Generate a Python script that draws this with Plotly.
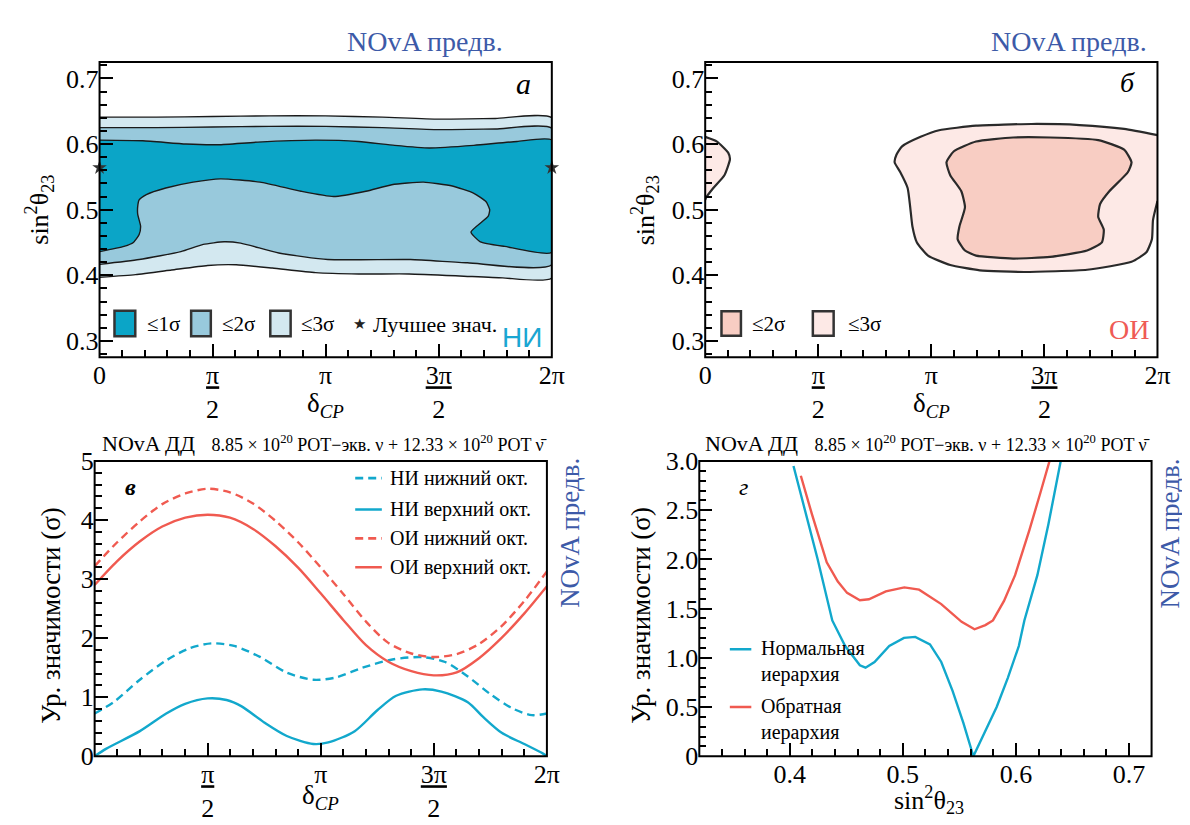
import numpy as np
import plotly.graph_objects as go

PI = np.pi
SERIF = "Liberation Serif"
SANS = "Liberation Sans"

# ---------------- Panel a (NH) : sin^2(theta23) vs delta_CP contour bands ----------------
a3_top_x = [0, 0.79, 1.57, 2.36, 3.14, 3.93, 4.71, 5.50, 2 * PI]
a3_top_y = [0.641, 0.641, 0.642, 0.643, 0.643, 0.641, 0.638, 0.639, 0.640]
a3_bot_x = [0, 0.5, 1.0, 1.5, 1.9, 2.4, 3.0, 3.6, 4.3, 5.0, 5.6, 2 * PI]
a3_bot_y = [0.397, 0.401, 0.408, 0.415, 0.416, 0.411, 0.404, 0.402, 0.402, 0.399, 0.396, 0.396]
a2_top_x = [0, 0.79, 1.57, 2.36, 3.14, 3.93, 4.71, 5.50, 2 * PI]
a2_top_y = [0.625, 0.625, 0.626, 0.627, 0.627, 0.625, 0.622, 0.623, 0.624]
a2_bot_x = [0, 0.55, 1.13, 1.44, 1.73, 1.96, 2.49, 3.17, 4.32, 5.11, 2 * PI]
a2_bot_y = [0.4166, 0.424, 0.436, 0.447, 0.451, 0.449, 0.434, 0.424, 0.424, 0.419, 0.416]
a1_top_x = [0, 0.6, 1.2, 1.65, 2.2, 3.0, 3.6, 4.1, 4.58, 5.2, 5.8, 2 * PI]
a1_top_y = [0.606, 0.605, 0.600, 0.599, 0.603, 0.606, 0.604, 0.598, 0.594, 0.598, 0.604, 0.606]
a1_bot_x = [0, 0.34, 0.47, 0.55, 0.57, 0.53, 0.53, 0.55, 0.65, 0.92, 1.3, 1.68, 2.23, 2.8, 3.25,
            3.7, 4.06, 4.50, 4.9, 5.2, 5.37, 5.42, 5.40, 5.16, 5.29, 5.63, 2 * PI]
a1_bot_y = [0.436, 0.444, 0.450, 0.462, 0.475, 0.493, 0.505, 0.515, 0.523, 0.533, 0.542, 0.547, 0.542,
            0.528, 0.520, 0.528, 0.538, 0.542, 0.536, 0.525, 0.512, 0.500, 0.490, 0.466, 0.451, 0.444, 0.435]
best_x = [0, 2 * PI]
best_y = [0.564, 0.564]

# ---------------- Panel b (IH) ----------------
b3_main_x = [2 * PI, 5.82, 5.2, 4.535, 3.763, 3.249, 2.992, 2.735, 2.658, 2.632, 2.709, 2.812, 2.848,
             2.879, 2.941, 3.095, 3.404, 3.815, 4.432, 5.306, 5.923, 6.129, 6.206, 6.221, 2 * PI]
b3_main_y = [0.6136, 0.623, 0.629, 0.6306, 0.628, 0.621, 0.611, 0.5965, 0.584, 0.572, 0.5574, 0.533,
             0.504, 0.4744, 0.450, 0.430, 0.4157, 0.4075, 0.405, 0.4084, 0.4206, 0.435, 0.455, 0.484, 0.513]
b3_left_x = [0, 0.164, 0.319, 0.344, 0.267, 0.113, 0.01, 0]
b3_left_y = [0.611, 0.6038, 0.587, 0.577, 0.5525, 0.533, 0.518, 0.515]
b2_x = [3.352, 3.455, 3.763, 4.277, 4.791, 5.460, 5.820, 5.923, 5.871, 5.614, 5.486, 5.460, 5.537,
        5.511, 5.306, 4.791, 4.277, 3.763, 3.609, 3.507, 3.532, 3.609, 3.558, 3.404, 3.352]
b2_y = [0.572, 0.589, 0.6038, 0.610, 0.610, 0.606, 0.5916, 0.572, 0.557, 0.528, 0.5086, 0.489, 0.4695,
        0.450, 0.4377, 0.428, 0.4255, 0.430, 0.4377, 0.455, 0.4744, 0.5037, 0.528, 0.5525, 0.572]

# ---------------- Panel c : significance vs delta_CP ----------------
nh_up_x = [0, 0.157, 0.628, 0.995, 1.257, 1.571, 1.833, 2.042, 2.356, 2.670, 3.037, 3.246, 3.613,
           3.927, 4.189, 4.555, 4.817, 5.184, 5.393, 5.655, 5.969, 6.23, 2 * PI]
nh_up_y = [0, 0.125, 0.425, 0.724, 0.888, 0.980, 0.953, 0.845, 0.572, 0.343, 0.207, 0.234, 0.425,
           0.779, 1.024, 1.133, 1.095, 0.915, 0.670, 0.397, 0.207, 0.044, 0]
nh_lo_x = [0, 0.262, 0.628, 0.995, 1.309, 1.623, 1.937, 2.304, 2.670, 3.037, 3.351, 3.718, 4.136,
           4.555, 4.869, 5.184, 5.498, 5.812, 6.074, 2 * PI]
nh_lo_y = [0.724, 0.915, 1.296, 1.623, 1.825, 1.912, 1.868, 1.678, 1.416, 1.296, 1.334, 1.498, 1.639,
           1.678, 1.596, 1.351, 1.051, 0.806, 0.697, 0.724]
ih_x = [0, 0.31, 0.63, 0.94, 1.26, 1.57, 1.88, 2.20, 2.51, 2.83, 3.14, 3.46, 3.77, 4.08, 4.40, 4.71,
        5.03, 5.34, 5.65, 5.97, 2 * PI]
ih_up_y = [2.90, 3.30, 3.64, 3.89, 4.04, 4.09, 4.04, 3.85, 3.56, 3.19, 2.76, 2.30, 1.88, 1.60, 1.44,
           1.37, 1.42, 1.66, 2.00, 2.42, 2.88]
ih_lo_y = [3.22, 3.62, 3.98, 4.27, 4.45, 4.53, 4.47, 4.28, 3.99, 3.62, 3.20, 2.74, 2.28, 1.92, 1.74,
           1.68, 1.73, 1.90, 2.20, 2.63, 3.13]

# ---------------- Panel d : significance vs sin^2(theta23) ----------------
nh_d_x = [0.4033, 0.413, 0.4245, 0.4376, 0.449, 0.462, 0.467, 0.475, 0.488, 0.501, 0.511, 0.524,
          0.534, 0.544, 0.5536, 0.5624, 0.5732, 0.583, 0.5928, 0.6026, 0.6075, 0.619, 0.6288, 0.637, 0.6405]
nh_d_y = [2.95, 2.53, 2.01, 1.38, 1.12, 0.924, 0.90, 0.958, 1.12, 1.203, 1.213, 1.137, 0.958, 0.664,
          0.336, 0.0, 0.27, 0.50, 0.794, 1.12, 1.38, 1.84, 2.36, 2.85, 3.05]
ih_d_x = [0.4098, 0.4196, 0.4327, 0.4425, 0.4507, 0.462, 0.470, 0.485, 0.5013, 0.5144, 0.534, 0.552,
          0.5634, 0.573, 0.5797, 0.5895, 0.5993, 0.612, 0.622, 0.631]
ih_d_y = [2.85, 2.46, 1.97, 1.775, 1.66, 1.585, 1.595, 1.676, 1.716, 1.693, 1.546, 1.366, 1.29, 1.333,
          1.38, 1.578, 1.84, 2.30, 2.69, 3.05]

# tick labels
dcp_vals = [0, PI / 2, PI, 3 * PI / 2, 2 * PI]
dcp_text_top = ["0", "<u>π</u><br>2", "π", "<u>3π</u><br>2", "2π"]
dcp_text_bot = ["", "<u>π</u><br>2", "π", "<u>3π</u><br>2", "2π"]
s23_vals = [0.3, 0.4, 0.5, 0.6, 0.7]
s23_text = ["0.3", "0.4", "0.5", "0.6", "0.7"]
sig_c_vals = [0, 1, 2, 3, 4, 5]
sig_d_vals = [0, 0.5, 1.0, 1.5, 2.0, 2.5, 3.0]
sig_d_text = ["0", "0.5", "1.0", "1.5", "2.0", "2.5", "3.0"]

# colours
C1, C2, C3 = "#0ba5c7", "#98c9dc", "#d3e8f0"
R2, R3 = "#f8cdc3", "#fde9e6"
CYAN, RED = "#12a8cc", "#f05a50"
BLUE = "#3d5aa8"

W, H = 1190, 825


def px(x):
    return x / W


def py(y):
    return 1 - y / H


fig = go.Figure()


def band(xt, yt, xb, yb, color, ax):
    xs = list(xt) + list(xb)[::-1]
    ys = list(yt) + list(yb)[::-1]
    fig.add_trace(go.Scatter(x=xs, y=ys, fill="toself", fillcolor=color, mode="lines",
                             line=dict(color="#1a1a1a", width=1.4, shape="spline", smoothing=0.5),
                             hoverinfo="skip", showlegend=False, xaxis="x" + ax, yaxis="y" + ax))


band(a3_top_x, a3_top_y, a3_bot_x, a3_bot_y, C3, "")
band(a2_top_x, a2_top_y, a2_bot_x, a2_bot_y, C2, "")
band(a1_top_x, a1_top_y, a1_bot_x, a1_bot_y, C1, "")
fig.add_trace(go.Scatter(x=best_x, y=best_y, mode="markers", cliponaxis=False,
                         marker=dict(symbol="star", size=11, color="#333333"),
                         showlegend=False, hoverinfo="skip", xaxis="x", yaxis="y"))

for xs, ys, col in [(b3_main_x, b3_main_y, R3), (b3_left_x, b3_left_y, R3), (b2_x, b2_y, R2)]:
    fig.add_trace(go.Scatter(x=xs, y=ys, fill="toself", fillcolor=col, mode="lines",
                             line=dict(color="#2a2a2a", width=2.2, shape="spline", smoothing=0.5),
                             hoverinfo="skip", showlegend=False, xaxis="x2", yaxis="y2"))

DASH = "8px,5px"
for xs, ys, col, dash in [(nh_lo_x, nh_lo_y, CYAN, DASH), (nh_up_x, nh_up_y, CYAN, "solid"),
                          (ih_x, ih_lo_y, RED, DASH), (ih_x, ih_up_y, RED, "solid")]:
    fig.add_trace(go.Scatter(x=xs, y=ys, mode="lines",
                             line=dict(color=col, width=2.4, dash=dash, shape="spline", smoothing=0.8),
                             hoverinfo="skip", showlegend=False, xaxis="x3", yaxis="y3"))

for xs, ys, col in [(nh_d_x, nh_d_y, CYAN), (ih_d_x, ih_d_y, RED)]:
    fig.add_trace(go.Scatter(x=xs, y=ys, mode="lines", line=dict(color=col, width=2.4),
                             hoverinfo="skip", showlegend=False, xaxis="x4", yaxis="y4"))


def axis(domain, rng, vals, text, minor_vals, anchor, size=26):
    return dict(domain=domain, range=rng, tickmode="array", tickvals=vals, ticktext=text,
                showgrid=False, zeroline=False, showline=False, ticks="inside", ticklen=13,
                tickwidth=2, tickcolor="black", anchor=anchor,
                tickfont=dict(family=SERIF, size=size, color="black"),
                minor=dict(tickmode="array", tickvals=minor_vals, ticks="inside", ticklen=7,
                           tickwidth=2, tickcolor="black"))


dcp_minor = [i * PI / 10 for i in range(21)]
s23_minor = [round(0.28 + 0.02 * i, 2) for i in range(23)]
c_minor = [round(0.2 * i, 1) for i in range(26)]
d_minor_y = [round(0.1 * i, 1) for i in range(31)]
d_minor_x = [round(0.32 + 0.02 * i, 2) for i in range(21)]

dom_ax = [px(86), px(546)]
dom_bx = [px(702), px(1162)]
dom_cx = [px(81), px(541)]
dom_dx = [px(696), px(1156)]
dom_top = [py(347.5), py(41.5)]
dom_bot = [py(761), py(455)]

fig.update_layout(
    width=W, height=H, margin=dict(l=0, r=0, t=0, b=0),
    paper_bgcolor="white", plot_bgcolor="white", showlegend=False,
    font=dict(family=SERIF, color="black"),
    xaxis=axis(dom_ax, [0, 2 * PI], dcp_vals, dcp_text_top, dcp_minor, "y"),
    yaxis=axis(dom_top, [0.275, 0.725], s23_vals, s23_text, s23_minor, "x"),
    xaxis2=axis(dom_bx, [0, 2 * PI], dcp_vals, dcp_text_top, dcp_minor, "y2"),
    yaxis2=axis(dom_top, [0.275, 0.725], s23_vals, s23_text, s23_minor, "x2"),
    xaxis3=axis(dom_cx, [0, 2 * PI], dcp_vals, dcp_text_bot, dcp_minor, "y3"),
    yaxis3=axis(dom_bot, [0, 5], sig_c_vals, [str(v) for v in sig_c_vals], c_minor, "x3"),
    xaxis4=axis(dom_dx, [0.32, 0.72], s23_vals[1:], s23_text[1:], d_minor_x, "y4"),
    yaxis4=axis(dom_bot, [0, 3], sig_d_vals, sig_d_text, d_minor_y, "x4"),
)

shapes = []
for xa, ya in [("x", "y"), ("x2", "y2"), ("x3", "y3"), ("x4", "y4")]:
    shapes.append(dict(type="rect", xref=xa + " domain", yref=ya + " domain", x0=0, x1=1, y0=0, y1=1,
                       line=dict(color="black", width=2), layer="above"))

for x0, x1, col in [(0.033, 0.079, C1), (0.2025, 0.246, C2), (0.3775, 0.4225, C3)]:
    shapes.append(dict(type="rect", xref="x domain", yref="y", x0=x0, x1=x1, y0=0.307, y1=0.346,
                       fillcolor=col, line=dict(color="#333333", width=2.5)))
for x0, x1, col in [(0.036, 0.079, R2), (0.238, 0.284, R3)]:
    shapes.append(dict(type="rect", xref="x2 domain", yref="y2", x0=x0, x1=x1, y0=0.308, y1=0.345,
                       fillcolor=col, line=dict(color="#333333", width=2.5)))
for yv, col, dash in [(4.71, CYAN, DASH), (4.18, CYAN, "solid"), (3.69, RED, DASH), (3.20, RED, "solid")]:
    shapes.append(dict(type="line", xref="x3", yref="y3", x0=3.62, x1=3.99, y0=yv, y1=yv,
                       line=dict(color=col, width=2.6, dash=dash)))
for yv, col in [(1.088, CYAN), (0.50, RED)]:
    shapes.append(dict(type="line", xref="x4", yref="y4", x0=0.347, x1=0.366, y0=yv, y1=yv,
                       line=dict(color=col, width=2.6)))
fig.update_layout(shapes=shapes)

ann = []


def A(text, x, y, xref="paper", yref="paper", size=20, color="black", family=SERIF,
      xanchor="center", yanchor="middle", angle=0, align="center", yshift=0):
    ann.append(dict(text=text, x=x, y=y, xref=xref, yref=yref, showarrow=False, xanchor=xanchor,
                    yanchor=yanchor, textangle=angle, align=align, yshift=yshift,
                    font=dict(family=family, size=size, color=color)))


A("NOvA предв.", px(498), py(20), size=28, color=BLUE, xanchor="right")
A("NOvA предв.", px(1153), py(20), size=28, color=BLUE, xanchor="right")
A("<i>а</i>", 0.9375, 0.6916, xref="x domain", yref="y", size=30)
A("<i>б</i>", 0.934, 0.694, xref="x2 domain", yref="y2", size=28)
for xt in [px(316), px(932)]:
    A("δ<sub><i>CP</i></sub>", xt, py(397), size=27)
A("sin<sup>2</sup>θ<sub>23</sub>", px(25), py(195), size=26, angle=-90)
A("sin<sup>2</sup>θ<sub>23</sub>", px(641), py(195), size=26, angle=-90)
for xf, t, s in [(0.10, "≤1σ", 21), (0.267, "≤2σ", 21), (0.442, "≤3σ", 21), (0.60, "Лучшее знач.", 22)]:
    A(t, xf, 0.325, xref="x domain", yref="y", size=s, xanchor="left")
A("★", 0.575, 0.326, xref="x domain", yref="y", size=15, color="#222222", family="DejaVu Sans")
A("НИ", 0.983, 0.305, xref="x domain", yref="y", size=28, color="#1aa6d2", family=SANS, xanchor="right")
for xf, t in [(0.10, "≤2σ"), (0.312, "≤3σ")]:
    A(t, xf, 0.325, xref="x2 domain", yref="y2", size=21, xanchor="left")
A("ОИ", 0.985, 0.318, xref="x2 domain", yref="y2", size=28, color="#ef5b55", xanchor="right")

header = ("NOvA ДД\u00a0\u00a0\u00a0<span style='font-size:18px'>8.85 × 10<sup>20</sup> POT−экв. ν + "
          "12.33 × 10<sup>20</sup> POT ν\u0304</span>")
A(header, px(86), py(437), size=22, xanchor="left")
A(header, px(700), py(437), size=22, xanchor="left")
A("NOvA предв.", px(565), py(530), size=27, color=BLUE, angle=-90)
A("NOvA предв.", px(1175), py(530), size=27, color=BLUE, angle=-90)
A("Ур. значимости (σ)", px(37), py(615), size=27, angle=-90)
A("Ур. значимости (σ)", px(637), py(615), size=27, angle=-90)
A("δ<sub><i>CP</i></sub>", px(311), py(803), size=27)
A("sin<sup>2</sup>θ<sub>23</sub>", px(930), py(806), size=26)
A("<b><i>в</i></b>", px(117), py(482), size=24)
A("<i>г</i>", px(741), py(482), size=24)
for yv, t in [(4.71, "НИ нижний окт."), (4.18, "НИ верхний окт."), (3.69, "ОИ нижний окт."),
              (3.20, "ОИ верхний окт.")]:
    A(t, 4.07, yv, xref="x3", yref="y3", size=20, xanchor="left")
A("Нормальная<br>иерархия", 0.373, 1.088, xref="x4", yref="y4", size=20, xanchor="left",
  yanchor="top", align="left", yshift=14)
A("Обратная<br>иерархия", 0.373, 0.50, xref="x4", yref="y4", size=20, xanchor="left",
  yanchor="top", align="left", yshift=14)
fig.update_layout(annotations=ann)

fig.write_html("out.html")
